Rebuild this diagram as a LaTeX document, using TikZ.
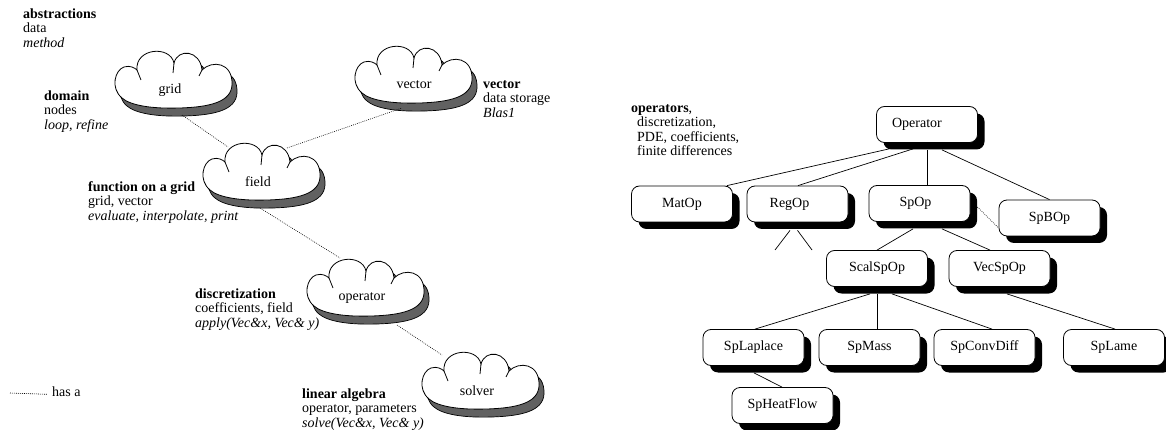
\documentclass[tikz,border=0pt]{standalone}
\usepackage{fontspec}
\setmainfont{Liberation Serif}
\usetikzlibrary{calc,shadows}
\def\cloudpath{(-33,-20) .. controls (-35,-42) and (0,-45) .. (4,-27)
 .. controls (8,-42) and (30,-40) .. (32,-20)
 .. controls (42,-30) and (63,-28) .. (62,-5)
 .. controls (61,12) and (40,17) .. (10,18)
 .. controls (-20,19) and (-40,15) .. (-48,8)
 .. controls (-60,-2) and (-55,-20) .. (-46,-23)
 .. controls (-40,-25) and (-35,-22) .. (-33,-20) -- cycle}
\tikzset{
  cloudpic/.pic={
    \filldraw[fill=black!62, draw=black, line width=0.7pt, shift={(5,8)}] \cloudpath;
    \filldraw[fill=white, draw=black, line width=0.8pt] \cloudpath;
    \draw[line width=0.8pt] (-33,-20) -- (-29,-10) (4,-27) -- (3,-17) (32,-20) -- (29,-14);
  },
  cloudlabel/.style={inner sep=0pt, anchor=center},
  txt/.style={inner sep=0pt, anchor=north west, align=left, yshift=10.15pt},
  hasa/.style={line width=0.6pt, dash pattern=on 0.8pt off 1.2pt},
  link/.style={line width=0.7pt},
  obox/.style={draw, line width=0.8pt, rounded corners=8pt, fill=white,
    minimum width=101pt, minimum height=36pt, inner sep=0pt,
    drop shadow={shadow xshift=7pt, shadow yshift=-7pt, opacity=1, fill=black}},
}
\begin{document}
\begin{tikzpicture}[x=1pt, y=-1pt, every node/.style={font=\fontsize{14}{14.5}\selectfont}]
\useasboundingbox (0,0) rectangle (1166,430);
% ---------- left: clouds ----------
\pic at (170,90) {cloudpic};
\pic at (410,85) {cloudpic};
\pic at (258,182) {cloudpic};
\pic at (362,298) {cloudpic};
\pic at (477,391) {cloudpic};
\node[cloudlabel] (grid) at (170,90) {grid};
\node[cloudlabel] (vector) at (414,85) {vector};
\node[cloudlabel] (field) at (258,182) {field};
\node[cloudlabel] (operator) at (362,298) {operator};
\node[cloudlabel] (solver) at (477,391) {solver};
% texts
\node[txt] (tabs) at (23,18) {\strut\textbf{abstractions}\\data\\\textit{method}};
\node[txt] (tdom) at (44,100) {\strut\textbf{domain}\\nodes\\\textit{loop, refine}};
\node[txt] (tvec) at (483,88) {\strut\textbf{vector}\\data storage\\\textit{Blas1}};
\node[txt] (tfun) at (88,191) {\strut\textbf{function on a grid}\\grid, vector\\\textit{evaluate, interpolate, print}};
\node[txt] (tdis) at (195,298) {\strut\textbf{discretization}\\coefficients, field\\\textit{apply(Vec\&x, Vec\& y)}};
\node[txt] (tlin) at (302,398) {\strut\textbf{linear algebra}\\operator, parameters\\\textit{solve(Vec\&x, Vec\& y)}};
% has-a connectors
\draw[hasa] ($(grid)+(12,25)$) -- ($(field)+(-30,-35)$);
\draw[hasa] ($(field)+(29,-34)$) -- ($(vector)+(-12,23)$);
\draw[hasa] ($(field)+(2,26)$) -- ($(operator)+(-22,-40)$);
\draw[hasa] ($(operator)+(35,27)$) -- ($(solver)+(-35,-36)$);
% legend
\coordinate (legA) at (10,393);
\node[txt] (hasatxt) at (52,396) {\strut has a};
\draw[hasa] (legA) -- ($(hasatxt.west)+(-5,1)$);
% ---------- right: class tree ----------
\node[txt] (tops) at (631,112) {\strut\textbf{operators},\\\hspace*{6pt}discretization,\\\hspace*{6pt}PDE, coefficients,\\\hspace*{6pt}finite differences};
\node[obox] (Operator) at (927,124.5) {Operator\hspace*{20pt}};
\node[obox] (MatOp) at (682,204) {MatOp};
\node[obox] (RegOp) at (797.5,204) {RegOp\hspace*{16pt}};
\node[obox] (SpOp) at (919.5,203.5) {SpOp\hspace*{8pt}};
\node[obox] (SpBOp) at (1049.5,218) {SpBOp};
\node[obox] (ScalSpOp) at (877,268.5) {ScalSpOp};
\node[obox] (VecSpOp) at (999.5,268.5) {VecSpOp};
\node[obox] (SpLaplace) at (753.5,347.5) {SpLaplace};
\node[obox] (SpMass) at (869.5,347.5) {SpMass};
\node[obox] (SpConvDiff) at (984.5,347.5) {SpConvDiff};
\node[obox] (SpLame) at (1114,347.5) {SpLame};
\node[obox] (SpHeatFlow) at (782.5,405.5) {SpHeatFlow};
% tree links
\draw[link] ($(Operator.south)+(-38,6)$) -- ($(MatOp.north)+(45,0)$);
\draw[link] ($(Operator.south)+(-14,6)$) -- ($(RegOp.north)+(0.5,0)$);
\draw[link] ($(Operator.south)+(0,7)$) -- ($(SpOp.north)+(7.5,0)$);
\draw[link] ($(Operator.south)+(15,7)$) -- ($(SpBOp.north)+(0,0)$);
\draw[link] ($(SpOp.south)+(-6.5,7)$) -- ($(ScalSpOp.north)+(0,0)$);
\draw[link] ($(SpOp.south)+(22.5,7)$) -- ($(VecSpOp.north)+(-9.5,0)$);
\draw[hasa] ($(SpOp.east)+(7,3.5)$) -- ($(SpBOp.west)+(0,10)$);
\coordinate (legL) at (775,250);
\coordinate (legR) at (812,250);
\draw[link] ($(RegOp.south)+(-7.5,8)$) -- (legL);
\draw[link] ($(RegOp.south)+(0,8)$) -- (legR);
\draw[link] ($(ScalSpOp.south)+(-7,7)$) -- ($(SpLaplace.north)+(1.5,0)$);
\draw[link] ($(ScalSpOp.south)+(0,7)$) -- ($(SpMass.north)+(7.5,0)$);
\draw[link] ($(ScalSpOp.south)+(15,7)$) -- ($(SpConvDiff.north)+(7.5,0)$);
\draw[link] ($(VecSpOp.south)+(7.5,7)$) -- ($(SpLame.north)+(1,0)$);
\draw[link] ($(SpLaplace.south)+(0.5,7)$) -- ($(SpHeatFlow.north)+(-0.5,0)$);
\end{tikzpicture}
\end{document}
